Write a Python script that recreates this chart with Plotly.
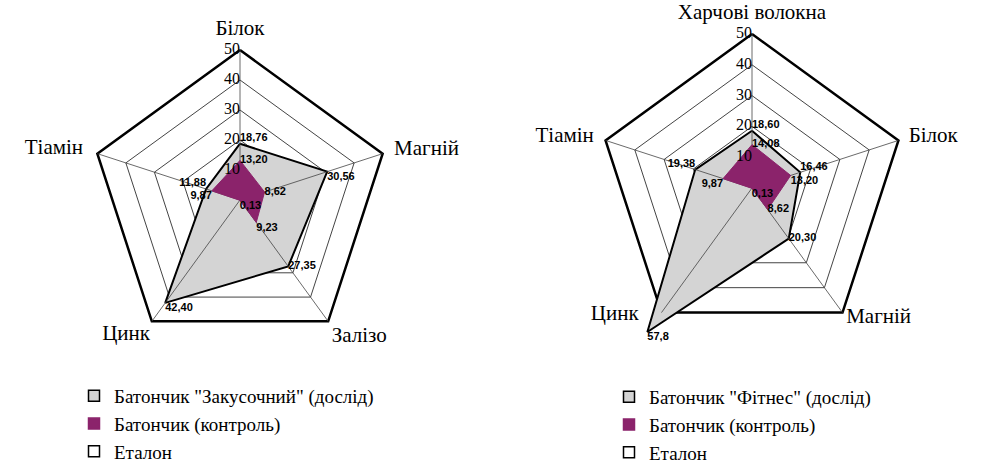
import plotly.graph_objects as go

# ---- data -------------------------------------------------------------
# Left radar: bar "Закусочний"
left_axes = ["Білок", "Магній", "Залізо", "Цинк", "Тіамін"]
left_test = [18.76, 30.56, 27.35, 42.40, 11.88]
left_control = [13.20, 8.62, 9.23, 0.13, 9.87]
left_etalon = [50, 50, 50, 50, 50]
left_test_name = 'Батончик "Закусочний" (дослід)'

# Right radar: bar "Фітнес"
right_axes = ["Харчові волокна", "Білок", "Магній", "Цинк", "Тіамін"]
right_test = [18.60, 16.46, 20.30, 57.8, 19.38]
right_control = [14.08, 13.20, 8.62, 0.13, 9.87]
right_etalon = [50, 50, 50, 50, 50]
right_test_name = 'Батончик "Фітнес" (дослід)'

control_name = "Батончик (контроль)"
etalon_name = "Еталон"
radial_ticks = [0, 10, 20, 30, 40, 50]
radial_tick_text = ["0", "10", "20", "30", "40", "50"]

# ---- label styling ----------------------------------------------------
left_name_pos = ["top center", "middle right", "bottom right", "bottom left", "middle left"]
left_name_pad = [3.2, 4.0, 2.0, 1.0, 5.0]
left_name_gap = [0, 0, 0, 0, 0]
right_name_pos = ["top center", "middle right", "middle right", "middle left", "middle left"]
right_name_pad = [3.2, 3.5, 2.0, 1.0, 4.0]
right_name_gap = [0, 0, 0, 4, 0]   # extra spacing keeps "Цинк" clear of the spike
left_test_pos = ["top right", "bottom right", "middle right", "bottom right", "top left"]
left_control_pos = ["middle right", "middle right", "bottom right", "bottom right", "bottom left"]
left_test_prec = [2, 2, 2, 2, 2]
right_test_pos = ["top right", "top right", "middle right", "bottom right", "top left"]
right_control_pos = ["middle right", "bottom right", "middle right", "bottom right", "bottom left"]
right_test_prec = [2, 2, 2, 1, 2]

PURPLE = "#8b236b"
STIPPLE = "#d4d4d4"
GRID = "#444444"
SERIF = "Liberation Serif, DejaVu Serif, Times New Roman, serif"
SANS = "Liberation Sans, Arial, sans-serif"
NBSP = "\u00a0"
W, H = 983, 463


def fmt(v, p=2):
    return f"{v:.{p}f}".replace(".", ",")


def closed(seq):
    return list(seq) + [seq[0]]


def spaced(name, pos, gap):
    pad = NBSP * gap
    return name + pad if pos.endswith("left") else pad + name


def add_radar(fig, subplot, legend, axes, test, control, etalon, test_name,
              test_pos, control_pos, test_prec, name_pos, name_pad, name_gap):
    label_font = dict(family=SANS, size=11, color="black", weight="bold")
    # reference pentagon (Еталон)
    fig.add_trace(go.Scatterpolar(
        r=closed(etalon), theta=closed(axes), mode="lines",
        line=dict(color="black", width=2.5), fill="none",
        hoverinfo="skip", showlegend=False, subplot=subplot))
    # experimental bar: grey polygon with heavy outline
    fig.add_trace(go.Scatterpolar(
        r=closed(test), theta=closed(axes), mode="lines",
        fill="toself", fillcolor=STIPPLE,
        line=dict(color="black", width=2),
        showlegend=False, subplot=subplot))
    # spokes from the centre to each reference vertex
    spoke_r, spoke_t = [], []
    for a, e in zip(axes, etalon):
        spoke_r += [0, e, None]
        spoke_t += [a, a, None]
    fig.add_trace(go.Scatterpolar(
        r=spoke_r, theta=spoke_t, mode="lines",
        line=dict(color=GRID, width=0.8), hoverinfo="skip",
        showlegend=False, subplot=subplot))
    # control bar: solid purple polygon
    fig.add_trace(go.Scatterpolar(
        r=closed(control), theta=closed(axes), mode="lines",
        fill="toself", fillcolor=PURPLE, line=dict(color=PURPLE, width=1),
        showlegend=False, subplot=subplot))
    # value labels
    fig.add_trace(go.Scatterpolar(
        r=test, theta=axes, mode="text",
        text=[fmt(v, p) for v, p in zip(test, test_prec)],
        textposition=test_pos, textfont=label_font,
        hoverinfo="skip", showlegend=False, subplot=subplot))
    fig.add_trace(go.Scatterpolar(
        r=control, theta=axes, mode="text",
        text=[fmt(v) for v in control],
        textposition=control_pos, textfont=label_font,
        hoverinfo="skip", showlegend=False, subplot=subplot))
    # radial scale labels beside the first spoke
    fig.add_trace(go.Scatterpolar(
        r=radial_ticks, theta=[axes[0]] * len(radial_ticks), mode="text",
        text=radial_tick_text, textposition="middle left",
        textfont=dict(family=SERIF, size=16, color="black"),
        hoverinfo="skip", showlegend=False, subplot=subplot))
    # category names just outside the reference vertices
    fig.add_trace(go.Scatterpolar(
        r=[e + p for e, p in zip(etalon, name_pad)], theta=axes,
        mode="text",
        text=[spaced(a, p, g) for a, p, g in zip(axes, name_pos, name_gap)],
        textposition=name_pos,
        textfont=dict(family=SERIF, size=21, color="black"),
        hoverinfo="skip", showlegend=False, subplot=subplot))
    # square legend keys
    keys = [(test_name, STIPPLE, "black"),
            (control_name, PURPLE, PURPLE),
            (etalon_name, "white", "black")]
    for name, fc, lc in keys:
        fig.add_trace(go.Scatterpolar(
            r=[None], theta=[None], mode="markers", name=name,
            marker=dict(symbol="square", size=11, color=fc,
                        line=dict(color=lc, width=1.5)),
            legend=legend, subplot=subplot))


def polar_layout(cx, cy, rad50, rmax):
    # rad50: pixel radius of the value 50; the radial range runs a bit past it
    rad = rad50 * rmax / 50
    return dict(
        domain=dict(x=[(cx - rad) / W, (cx + rad) / W],
                    y=[1 - (cy + rad) / H, 1 - (cy - rad) / H]),
        gridshape="linear",
        bgcolor="rgba(0,0,0,0)",
        radialaxis=dict(
            range=[0, rmax], tickvals=radial_ticks, showticklabels=False,
            angle=90, ticks="", showline=False,
            gridcolor=GRID, gridwidth=0.8),
        angularaxis=dict(
            direction="clockwise", rotation=90, ticks="", showline=False,
            showgrid=False, showticklabels=False),
    )


def legend_layout(x_px, y_px):
    return dict(
        x=x_px / W, y=1 - y_px / H, xanchor="left", yanchor="top",
        bgcolor="rgba(0,0,0,0)", tracegroupgap=0,
        font=dict(family=SERIF, size=19, color="black"),
        itemwidth=30)


fig = go.Figure()
add_radar(fig, "polar", "legend", left_axes, left_test, left_control,
          left_etalon, left_test_name, left_test_pos, left_control_pos,
          left_test_prec, left_name_pos, left_name_pad, left_name_gap)
add_radar(fig, "polar2", "legend2", right_axes, right_test, right_control,
          right_etalon, right_test_name, right_test_pos, right_control_pos,
          right_test_prec, right_name_pos, right_name_pad, right_name_gap)

fig.update_layout(
    width=W, height=H,
    margin=dict(l=0, r=0, t=0, b=0, autoexpand=False),
    paper_bgcolor="white",
    plot_bgcolor="white",
    polar=polar_layout(240, 200, 150, 57),
    polar2=polar_layout(752, 188, 154, 60),
    legend=legend_layout(74, 377),
    legend2=legend_layout(609, 378),
    showlegend=True,
)

fig.write_html("out.html")
